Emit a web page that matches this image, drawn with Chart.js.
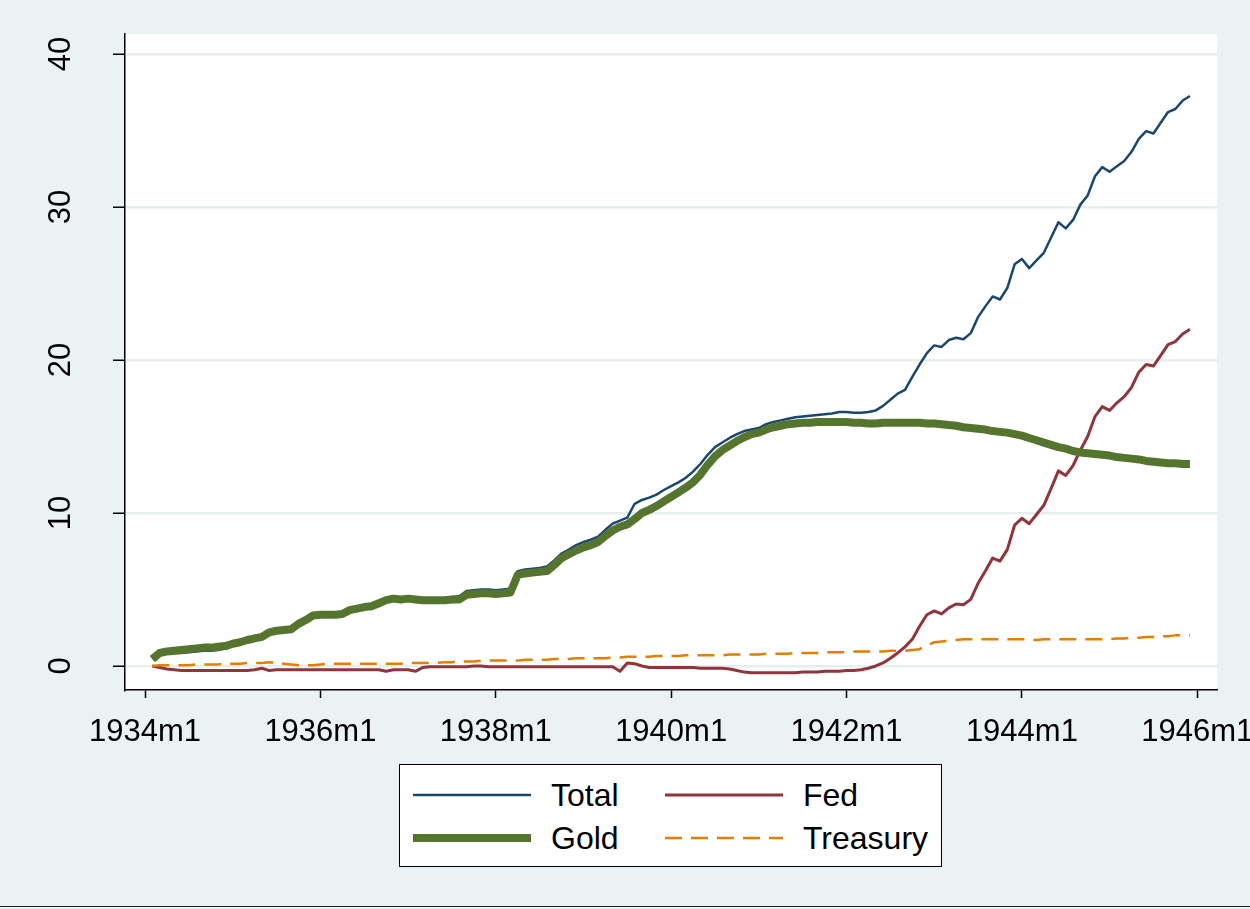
<!DOCTYPE html>
<html>
<head>
<meta charset="utf-8">
<title>Total, Gold, Fed and Treasury</title>
<script src="https://cdn.jsdelivr.net/npm/chart.js@4.4.1/dist/chart.umd.min.js"></script>
<style>
    body { margin: 0; background: #fff; }
    #wrap { position: relative; width: 1250px; height: 909px; background: #EAF2F3; overflow: hidden; }
    #chart { position: absolute; left: 0; top: 0; }
    #legend {
        position: absolute; left: 399px; top: 764px; width: 541px; height: 101px;
        background: #fff; border: 1px solid #000;
        font-family: Arial, "Liberation Sans", sans-serif; font-size: 32px; color: #000;
    }
    .legend-item { position: absolute; height: 40px; display: flex; align-items: center; white-space: nowrap; }
    .legend-item svg { display: block; }
    .legend-item span { margin-left: 20px; }
    #bottom-rule { position: absolute; left: 0; right: 0; top: 906px; height: 1px; background: #222; }
</style>
</head>
<body>
<div id="wrap">
    <canvas id="chart" width="1250" height="909"></canvas>
    <div id="legend"></div>
    <div id="bottom-rule"></div>
</div>
<script>
// Monthly series, 1934m2 .. 1945m12 (index 1 = one month after 1934m1)
const firstMonth = 1;

const totalValues = [
    0.45, 0.8, 0.85, 0.85, 0.85, 0.9, 0.95, 1.0, 1.0, 1.05,
    1.15, 1.3, 1.4, 1.6, 1.75, 1.95, 2.15, 2.3, 2.3, 2.35,
    2.6, 2.85, 3.2, 3.3, 3.3, 3.3, 3.35, 3.6, 3.7, 3.8,
    3.85, 4.05, 4.2, 4.3, 4.3, 4.35, 4.3, 4.35, 4.4, 4.4,
    4.45, 4.5, 4.55, 4.9, 4.95, 5.0, 5.0, 4.95, 5.0, 5.05,
    6.2, 6.3, 6.35, 6.4, 6.5, 6.9, 7.35, 7.6, 7.9, 8.1,
    8.25, 8.45, 8.9, 9.3, 9.5, 9.7, 10.6, 10.85, 11.0, 11.2,
    11.5, 11.75, 12.0, 12.3, 12.7, 13.2, 13.8, 14.3, 14.6, 14.9,
    15.15, 15.35, 15.45, 15.55, 15.8, 15.95, 16.05, 16.15, 16.25, 16.3,
    16.35, 16.4, 16.45, 16.5, 16.6, 16.6, 16.55, 16.55, 16.6, 16.7,
    17.0, 17.4, 17.8, 18.05, 18.9, 19.7, 20.45, 20.95, 20.85, 21.3,
    21.45, 21.35, 21.75, 22.8, 23.5, 24.15, 23.95, 24.7, 26.25, 26.6,
    26.0, 26.5, 27.0, 28.0, 29.0, 28.6, 29.15, 30.15, 30.75, 32.0,
    32.6, 32.3, 32.65, 33.0, 33.6, 34.45, 34.95, 34.8, 35.5, 36.2,
    36.4, 36.95, 37.25
];

const fedValues = [
    0.0, -0.1, -0.2, -0.25, -0.3, -0.3, -0.3, -0.3, -0.3, -0.3,
    -0.3, -0.3, -0.3, -0.3, -0.25, -0.15, -0.3, -0.25, -0.25, -0.25,
    -0.25, -0.25, -0.25, -0.25, -0.25, -0.25, -0.25, -0.25, -0.25, -0.25,
    -0.25, -0.25, -0.35, -0.25, -0.25, -0.25, -0.35, -0.1, -0.05, -0.05,
    -0.05, -0.05, -0.05, -0.05, 0.0, 0.0, -0.05, -0.05, -0.05, -0.05,
    -0.05, -0.05, -0.05, -0.05, -0.05, -0.05, -0.05, -0.05, -0.05, -0.05,
    -0.05, -0.05, -0.05, -0.05, -0.35, 0.2, 0.15, 0.0, -0.1, -0.1,
    -0.1, -0.1, -0.1, -0.1, -0.1, -0.15, -0.15, -0.15, -0.15, -0.2,
    -0.3, -0.4, -0.45, -0.45, -0.45, -0.45, -0.45, -0.45, -0.45, -0.4,
    -0.4, -0.4, -0.35, -0.35, -0.35, -0.3, -0.3, -0.25, -0.15, 0.0,
    0.2, 0.5, 0.85, 1.25, 1.75, 2.6, 3.35, 3.6, 3.4, 3.8,
    4.05, 4.0, 4.35, 5.4, 6.2, 7.05, 6.85, 7.6, 9.2, 9.65,
    9.3, 9.9, 10.5, 11.6, 12.75, 12.45, 13.1, 14.1, 15.0, 16.3,
    16.95, 16.7, 17.2, 17.6, 18.2, 19.2, 19.7, 19.6, 20.3, 21.0,
    21.2, 21.7, 22.0
];

const goldValues = [
    0.45, 0.85, 0.95, 1.0, 1.05, 1.1, 1.15, 1.2, 1.2, 1.25,
    1.3, 1.45, 1.55, 1.7, 1.8, 1.9, 2.2, 2.3, 2.35, 2.4,
    2.75, 3.0, 3.3, 3.35, 3.35, 3.35, 3.4, 3.65, 3.75, 3.85,
    3.9, 4.1, 4.3, 4.4, 4.35, 4.4, 4.35, 4.3, 4.3, 4.3,
    4.3, 4.35, 4.35, 4.65, 4.7, 4.75, 4.75, 4.7, 4.75, 4.8,
    5.95, 6.05, 6.1, 6.15, 6.2, 6.6, 7.05, 7.3, 7.55, 7.75,
    7.9, 8.1, 8.5, 8.85, 9.1, 9.25, 9.6, 10.0, 10.2, 10.45,
    10.75, 11.05, 11.35, 11.65, 12.0, 12.5, 13.15, 13.7, 14.1, 14.4,
    14.7, 14.95, 15.15, 15.25, 15.45, 15.6, 15.7, 15.8, 15.85, 15.9,
    15.9, 15.95, 15.95, 15.95, 15.95, 15.95, 15.9, 15.9, 15.85, 15.85,
    15.9, 15.9, 15.9, 15.9, 15.9, 15.9, 15.85, 15.85, 15.8, 15.75,
    15.7, 15.6, 15.55, 15.5, 15.45, 15.35, 15.3, 15.25, 15.15, 15.05,
    14.9, 14.75, 14.6, 14.45, 14.3, 14.2, 14.05, 13.95, 13.9, 13.85,
    13.8, 13.75, 13.65, 13.6, 13.55, 13.5, 13.4, 13.35, 13.3, 13.25,
    13.25, 13.2, 13.2
];

const treasuryValues = [
    0.0, 0.05, 0.05, 0.05, 0.05, 0.05, 0.1, 0.1, 0.1, 0.1,
    0.15, 0.15, 0.15, 0.2, 0.2, 0.2, 0.25, 0.2, 0.15, 0.1,
    0.05, 0.05, 0.05, 0.1, 0.15, 0.15, 0.15, 0.15, 0.15, 0.15,
    0.15, 0.15, 0.15, 0.15, 0.15, 0.2, 0.2, 0.2, 0.2, 0.2,
    0.25, 0.25, 0.3, 0.3, 0.3, 0.35, 0.35, 0.35, 0.35, 0.35,
    0.35, 0.4, 0.4, 0.4, 0.4, 0.45, 0.45, 0.45, 0.5, 0.5,
    0.5, 0.5, 0.5, 0.55, 0.55, 0.6, 0.6, 0.6, 0.6, 0.65,
    0.65, 0.65, 0.65, 0.7, 0.7, 0.7, 0.7, 0.7, 0.7, 0.75,
    0.75, 0.75, 0.75, 0.75, 0.8, 0.8, 0.8, 0.8, 0.85, 0.85,
    0.85, 0.85, 0.9, 0.9, 0.9, 0.9, 0.95, 0.95, 0.95, 0.95,
    0.95, 1.0, 1.0, 1.0, 1.05, 1.1, 1.35, 1.55, 1.6, 1.65,
    1.7, 1.75, 1.75, 1.75, 1.75, 1.75, 1.75, 1.75, 1.75, 1.75,
    1.75, 1.7, 1.75, 1.75, 1.75, 1.75, 1.75, 1.75, 1.75, 1.75,
    1.75, 1.75, 1.8, 1.8, 1.85, 1.85, 1.9, 1.9, 1.95, 1.95,
    2.0, 2.0, 2.0
];

// Axis ticks
const xTickValues = [0, 24, 48, 72, 96, 120, 144];
const xTickLabels = ['1934m1', '1936m1', '1938m1', '1940m1', '1942m1', '1944m1', '1946m1'];
const yTickValues = [0, 10, 20, 30, 40];

// Axis ranges (months since 1934m1, and value)
const xMin = -2.74;
const xMax = 146.7;
const yMin = -1.57;
const yMax = 41.3;

const fontFamily = 'Arial, "Liberation Sans", sans-serif';

function toPoints(values) {
    return values.map((v, i) => ({ x: firstMonth + i, y: v }));
}

// White plot region behind the lines
const plotBackground = {
    id: 'plotBackground',
    beforeDraw(chart) {
        const { ctx, chartArea } = chart;
        ctx.save();
        ctx.fillStyle = '#ffffff';
        ctx.fillRect(chartArea.left, chartArea.top, chartArea.right - chartArea.left, chartArea.bottom - chartArea.top);
        ctx.restore();
    }
};

// Boxed two-column legend, Stata style
function buildLegend(chart) {
    const legendEl = document.getElementById('legend');
    legendEl.innerHTML = '';
    const colX = [13, 265];
    const rowY = [10, 53];
    chart.data.datasets.forEach((ds, i) => {
        const item = document.createElement('div');
        item.className = 'legend-item';
        item.style.left = colX[i % 2] + 'px';
        item.style.top = rowY[Math.floor(i / 2)] + 'px';

        const svgNS = 'http://www.w3.org/2000/svg';
        const svg = document.createElementNS(svgNS, 'svg');
        svg.setAttribute('width', '118');
        svg.setAttribute('height', '40');
        const line = document.createElementNS(svgNS, 'line');
        line.setAttribute('x1', '0');
        line.setAttribute('x2', '118');
        line.setAttribute('y1', '20');
        line.setAttribute('y2', '20');
        line.setAttribute('stroke', ds.borderColor);
        line.setAttribute('stroke-width', ds.borderWidth);
        if (ds.borderDash) line.setAttribute('stroke-dasharray', ds.borderDash.join(' '));
        svg.appendChild(line);

        const text = document.createElement('span');
        text.textContent = ds.label;

        item.appendChild(svg);
        item.appendChild(text);
        legendEl.appendChild(item);
    });
}

const ctx = document.getElementById('chart').getContext('2d');
Chart.defaults.font.family = fontFamily;
Chart.defaults.color = '#000';

const myChart = new Chart(ctx, {
    type: 'line',
    data: {
        datasets: [
            { label: 'Total', data: toPoints(totalValues), borderColor: '#1A476F', borderWidth: 2.5, order: 4 },
            { label: 'Fed', data: toPoints(fedValues), borderColor: '#90353B', borderWidth: 3, order: 3 },
            { label: 'Gold', data: toPoints(goldValues), borderColor: '#55752F', borderWidth: 8, order: 2 },
            { label: 'Treasury', data: toPoints(treasuryValues), borderColor: '#E37E00', borderWidth: 2.5, borderDash: [17, 9], order: 1 }
        ]
    },
    options: {
        responsive: false,
        animation: false,
        devicePixelRatio: 1,
        elements: {
            point: { radius: 0, hoverRadius: 0 },
            line: { tension: 0, fill: false, borderJoinStyle: 'round', borderCapStyle: 'butt' }
        },
        layout: {
            padding: { left: 0, top: 34, right: 33, bottom: 149 }
        },
        plugins: {
            legend: { display: false },
            tooltip: { enabled: false }
        },
        scales: {
            x: {
                type: 'linear',
                min: xMin,
                max: xMax,
                afterBuildTicks: (scale) => {
                    scale.ticks = xTickValues.map(v => ({ value: v }));
                },
                afterFit: (scale) => {
                    scale.height = 70;
                    scale.paddingLeft = 0;
                    scale.paddingRight = 0;
                },
                grid: { drawOnChartArea: false, tickColor: '#000', tickWidth: 1.5, tickLength: 8 },
                border: { display: true, color: '#000', width: 1.5 },
                ticks: {
                    callback: (value, index) => xTickLabels[index],
                    autoSkip: false,
                    maxRotation: 0,
                    padding: 16,
                    font: { size: 31 },
                    color: '#000'
                }
            },
            y: {
                min: yMin,
                max: yMax,
                afterBuildTicks: (scale) => {
                    scale.ticks = yTickValues.map(v => ({ value: v }));
                },
                afterFit: (scale) => {
                    scale.width = 125;
                    scale.paddingTop = 0;
                    scale.paddingBottom = 0;
                },
                grid: { color: '#E6EEF0', lineWidth: 2.5, tickColor: '#000', tickWidth: 1.5, tickLength: 12 },
                border: { display: true, color: '#000', width: 1.5 },
                ticks: {
                    autoSkip: false,
                    minRotation: 90,
                    maxRotation: 90,
                    crossAlign: 'center',
                    padding: 34,
                    font: { size: 31 },
                    color: '#000'
                }
            }
        }
    },
    plugins: [plotBackground]
});

buildLegend(myChart);
</script>
</body>
</html>
